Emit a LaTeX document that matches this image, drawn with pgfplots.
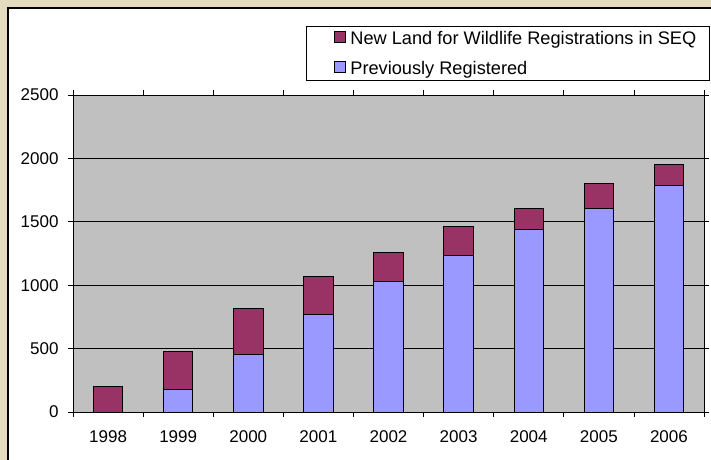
\documentclass[border=0pt]{standalone}
\usepackage{pgfplots}
\pgfplotsset{compat=1.18}
\usetikzlibrary{backgrounds}
\usepackage{fontspec}
\setmainfont{Liberation Sans}

\definecolor{frameBeige}{RGB}{228,218,192}
\definecolor{plotGray}{RGB}{192,192,192}
\definecolor{newPurple}{RGB}{153,51,102}
\definecolor{prevBlue}{RGB}{153,153,255}

% Registrations per year: previously registered and new in that year
\pgfplotstableread{
x prev new
0 0    200
1 180  300
2 455  365
3 770  300
4 1030 225
5 1235 225
6 1440 165
7 1605 200
8 1790 160
}\regtable

\begin{document}
\begin{tikzpicture}[x=1bp,y=1bp]
\begin{axis}[
  name=ax,
  anchor=south west,
  scale only axis, width=631bp, height=317bp,
  ybar stacked, bar width=0.42,
  xmin=-0.5, xmax=8.5, ymin=0, ymax=2500,
  xtick={-0.5,0.5,...,8.5},
  xticklabels={1998,1999,2000,2001,2002,2003,2004,2005,2006},
  x tick label as interval,
  ytick={0,500,...,2500},
  tick align=outside,
  major tick length=5bp,
  tick style={black, line width=0.8bp},
  ymajorgrids,
  grid style={black, line width=0.9bp},
  axis line style={black, line width=0.9bp},
  axis background/.style={fill=plotGray},
  /pgf/number format/assume math mode=true,
  /pgf/number format/1000 sep={},
  tick label style={font=\fontsize{17bp}{20bp}\selectfont},
  xticklabel style={yshift=-10bp},
  yticklabel style={xshift=-6bp},
  reverse legend,
  legend image code/.code={%
    \path (-14bp,0bp);
    \draw[#1] (0bp,-4bp) rectangle (11bp,7bp);},
  legend style={
    at={(0.3695,1.2177)}, anchor=north west,
    draw=black, line width=0.8bp, fill=white,
    font=\fontsize{18.2bp}{22bp}\selectfont,
    inner xsep=13bp, inner ysep=4bp,
    row sep=13bp,
    nodes={inner xsep=0bp, inner ysep=1bp},
    /tikz/every odd column/.append style={column sep=5bp},
    legend cell align=left,
  },
]
\addplot+[fill=prevBlue, draw=black, line width=0.8bp]
  table[x=x, y=prev] {\regtable};
\addlegendentry{Previously Registered}
\addplot+[fill=newPurple, draw=black, line width=0.8bp]
  table[x=x, y=new] {\regtable};
\addlegendentry{New Land for Wildlife Registrations in SEQ}
\end{axis}
\begin{scope}[on background layer, shift={(ax.south west)}]
  \fill[frameBeige] (-73,-48) rectangle (638,412);
  \fill[white] (-65,-60) rectangle (650,404);
  \draw[black, line width=1.2bp] (-65,-60) -- (-65,404) -- (650,404);
\end{scope}
\pgfresetboundingbox
\path[use as bounding box] ([shift={(-73,-48)}]ax.south west) rectangle ([shift={(638,412)}]ax.south west);
\end{tikzpicture}
\end{document}
